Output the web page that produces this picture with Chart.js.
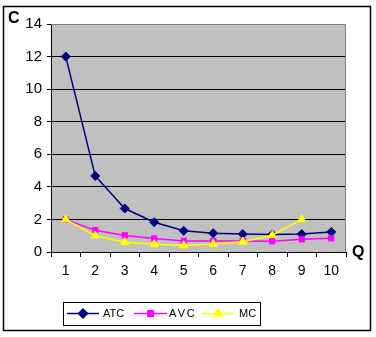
<!DOCTYPE html>
<html>
<head>
<meta charset="utf-8">
<script src="https://cdn.jsdelivr.net/npm/chart.js@4"></script>
<style>
  html, body { margin: 0; padding: 0; background: #fff; }
  #wrap { position: relative; width: 376px; height: 337px; }
</style>
</head>
<body>
<div id="wrap"><canvas id="c" width="376" height="337"></canvas></div>
<script>
// Output quantities and cost curves
const quantities = ['1', '2', '3', '4', '5', '6', '7', '8', '9', '10'];
const atc = [12, 4.67, 2.67, 1.83, 1.3, 1.15, 1.1, 1.08, 1.1, 1.23];
const avc = [2, 1.33, 1.02, 0.83, 0.68, 0.68, 0.68, 0.66, 0.78, 0.84];
const mc  = [2, 1.0, 0.6, 0.47, 0.4, 0.49, 0.63, 1.03, 2.0, null];
const yTicks = [0, 2, 4, 6, 8, 10, 12, 14];

const FONT = '"Liberation Sans", Arial, sans-serif';

// later series sit on top of earlier ones
const seriesStyle = [
  { label: 'ATC', data: atc, color: '#000080', point: 'rectRot', radius: 4.5, order: 2 },
  { label: 'AVC', data: avc, color: '#FF00FF', point: 'rect', radius: 3.8, order: 1 },
  { label: 'MC',  data: mc,  color: '#FFFF00', point: 'triangle', radius: 4.8, order: 0 }
];

// Frame, plot background, axis letters and the boxed legend
const decor = {
  id: 'decor',
  beforeDraw(chart) {
    const { ctx, chartArea: a } = chart;
    ctx.save();
    ctx.fillStyle = '#C0C0C0';
    ctx.fillRect(a.left, a.top, a.right - a.left, a.bottom - a.top);
    ctx.restore();
  },
  afterDatasetsDraw(chart) {
    const { ctx, chartArea: a } = chart;
    ctx.save();
    // plot border (top / right)
    ctx.strokeStyle = '#808080';
    ctx.lineWidth = 1;
    ctx.beginPath();
    ctx.moveTo(a.left, a.top + 0.5);
    ctx.lineTo(a.right - 0.5, a.top + 0.5);
    ctx.lineTo(a.right - 0.5, a.bottom);
    ctx.stroke();
    ctx.restore();
  },
  afterDraw(chart) {
    const { ctx } = chart;
    ctx.save();
    // outer frame
    ctx.strokeStyle = '#000';
    ctx.lineWidth = 1.5;
    ctx.strokeRect(3.5, 6.5, 367, 324);

    // axis letters
    ctx.fillStyle = '#000';
    ctx.font = 'bold 16px ' + FONT;
    ctx.textBaseline = 'middle';
    ctx.textAlign = 'left';
    ctx.fillText('C', 8, 19);
    ctx.fillText('Q', 352, 253);

    // legend box
    ctx.lineWidth = 1;
    ctx.strokeRect(63.5, 302.5, 197, 23);
    const items = [
      { x0: 67, x1: 99, tx: 103 },
      { x0: 134, x1: 167, tx: 169 },
      { x0: 202, x1: 234, tx: 239 }
    ];
    const ly = 313.5;
    ctx.font = '11px ' + FONT;
    items.forEach((it, i) => {
      const s = seriesStyle[i];
      ctx.strokeStyle = s.color;
      ctx.lineWidth = 1.5;
      ctx.beginPath();
      ctx.moveTo(it.x0, ly);
      ctx.lineTo(it.x1, ly);
      ctx.stroke();
      ctx.fillStyle = s.color;
      Chart.helpers.drawPoint(ctx, {
        pointStyle: s.point, radius: s.radius, rotation: 0, borderWidth: 1
      }, (it.x0 + it.x1) / 2, ly);
      ctx.fillStyle = '#000';
      ctx.textAlign = 'left';
      ctx.textBaseline = 'middle';
      if (s.label === 'AVC') {
        // spaced lettering
        let x = it.tx;
        for (const ch of s.label) { ctx.fillText(ch, x, ly); x += ctx.measureText(ch).width + 1.5; }
      } else {
        ctx.fillText(s.label, it.tx, ly);
      }
    });
    ctx.restore();
  }
};

new Chart(document.getElementById('c'), {
  type: 'line',
  data: {
    labels: quantities,
    datasets: seriesStyle.map(s => ({
      label: s.label,
      data: s.data,
      order: s.order,
      borderColor: s.color,
      backgroundColor: s.color,
      borderWidth: 1.5,
      pointStyle: s.point,
      pointRadius: s.radius,
      pointBorderWidth: 1,
      pointBorderColor: s.color,
      pointBackgroundColor: s.color,
      tension: 0,
      spanGaps: false
    }))
  },
  options: {
    responsive: false,
    animation: false,
    devicePixelRatio: 1,
    layout: { padding: { left: 0, top: 24, right: 30, bottom: 0 } },
    plugins: { legend: { display: false }, tooltip: { enabled: false } },
    scales: {
      x: {
        type: 'category',
        offset: true,
        grid: {
          offset: true,
          drawOnChartArea: false,
          drawTicks: true,
          tickLength: 5,
          color: '#000',
          tickColor: '#000'
        },
        border: { color: '#000', width: 1 },
        ticks: { color: '#000', font: { family: FONT, size: 14 }, padding: 6, maxRotation: 0 },
        afterFit(scale) { scale.height = 85; }
      },
      y: {
        min: 0, max: 14,
        afterBuildTicks(scale) { scale.ticks = yTicks.map(v => ({ value: v })); },
        grid: {
          color: ctx => (ctx.tick && ctx.tick.value === 14) ? 'rgba(0,0,0,0)' : '#000',
          tickColor: '#000',
          tickLength: 4,
          lineWidth: 1
        },
        border: { color: '#000', width: 1 },
        ticks: { color: '#000', font: { family: FONT, size: 15 }, padding: 5 },
        afterFit(scale) { scale.width = 51; }
      }
    }
  },
  plugins: [decor]
});
</script>
</body>
</html>
